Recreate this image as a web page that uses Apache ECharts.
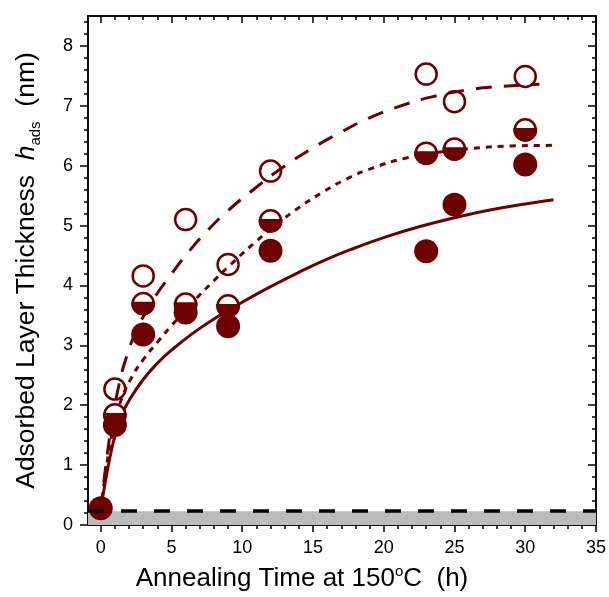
<!DOCTYPE html>
<html><head><meta charset="utf-8">
<script src="https://cdn.jsdelivr.net/npm/echarts@6/dist/echarts.min.js"></script>
<style>html,body{margin:0;padding:0;background:#fff}#c{width:609px;height:597px}</style>
</head><body><div id="c"></div>
<script>
// ---- tick labels ----
const xTicks = [0, 5, 10, 15, 20, 25, 30, 35];
const yTicks = [0, 1, 2, 3, 4, 5, 6, 7, 8];
// ---- measured data ----
const timeMeas = [1, 3, 6, 9, 12, 23, 25, 30];
const openH  = [2.27, 4.16, 5.10, 4.35, 5.91, 7.53, 7.07, 7.49];
const halfH  = [1.84, 3.70, 3.69, 3.66, 5.08, 6.21, 6.28, 6.60];
const filledT = [0, 1, 3, 6, 9, 12, 23, 25, 30];
const filledH = [0.28, 1.67, 3.18, 3.55, 3.32, 4.58, 4.57, 5.35, 6.02];
// ---- fit curves ----
const openFitT = [0, 0.25, 0.5, 0.75, 1.0, 1.3, 1.73, 2.5, 3.3, 4.0, 4.8, 6, 7.4, 9, 11, 12.8, 14.8, 16.9, 19, 21.1, 23.4, 25.8, 28, 31];
const openFitH = [0.25, 0.78, 1.25, 1.65, 2.0, 2.35, 2.74, 3.24, 3.6, 3.87, 4.13, 4.5, 4.88, 5.25, 5.64, 5.96, 6.27, 6.55, 6.8, 6.99, 7.15, 7.26, 7.32, 7.36];
const halfFitT = [0, 0.25, 0.5, 0.75, 1.0, 1.5, 2.2, 3, 4, 5, 6.5, 8, 9.5, 11, 12.5, 14, 15.7, 17.3, 19.2, 21.6, 24, 26.3, 29, 32];
const halfFitH = [0.25, 0.72, 1.12, 1.46, 1.74, 2.12, 2.47, 2.76, 3.05, 3.33, 3.72, 4.08, 4.42, 4.74, 5.03, 5.3, 5.56, 5.77, 5.96, 6.13, 6.23, 6.29, 6.33, 6.34];
const fillFitT = [0, 0.25, 0.5, 0.75, 1.0, 1.5, 2.0, 3.0, 4.0, 5, 6.5, 8, 10, 12, 14, 16, 18, 20, 22.5, 25, 27.5, 30, 32];
const fillFitH = [0.25, 0.62, 0.95, 1.24, 1.48, 1.84, 2.08, 2.43, 2.7, 2.92, 3.2, 3.44, 3.72, 3.98, 4.22, 4.44, 4.63, 4.8, 4.98, 5.13, 5.26, 5.36, 5.43];
const substrateH = 0.23;

const RED = '#6e0000';
const FONT = 'Liberation Sans, Arial, sans-serif';
const zip = (a, b) => a.map((v, i) => [v, b[i]]);

const xMinor = [];
for (let i = 0; i <= 35; i++) if (i % 5) xMinor.push(i);
const yMinor = [];
for (let i = 0; i <= 42; i++) if (i % 5) yMinor.push(+(i * 0.2).toFixed(1));

// lower segment of a circle (cut slightly above centre), used for half-filled markers
function segPath() {
  const a0 = Math.asin(-0.15), a1 = Math.PI - a0;
  const pts = [];
  const n = 48;
  for (let k = 0; k <= n; k++) {
    const a = a0 + (a1 - a0) * k / n;
    pts.push((100 + 100 * Math.cos(a)).toFixed(2) + ' ' + (100 + 100 * Math.sin(a)).toFixed(2));
  }
  return 'path://M' + pts.join(' L') + ' Z';
}
const SEG = segPath();
const MS = 24;

const XMIN = -0.9, XMAX = 35, YMIN = 0, YMAX = 8.5;
const axLine = { show: true, onZero: false, lineStyle: { color: '#000', width: 1.5 } };
function xAx(pos, ticks, len, inside, extra) {
  return Object.assign({
    type: 'value', min: XMIN, max: XMAX, position: pos,
    axisLine: axLine,
    axisTick: { show: true, inside: inside, length: len, customValues: ticks, lineStyle: { color: '#000', width: 1.5 } },
    axisLabel: { show: false },
    splitLine: { show: false }
  }, extra || {});
}
function yAx(pos, ticks, len, inside, extra) {
  return Object.assign({
    type: 'value', min: YMIN, max: YMAX, position: pos,
    axisLine: axLine,
    axisTick: { show: true, inside: inside, length: len, customValues: ticks, lineStyle: { color: '#000', width: 1.5 } },
    axisLabel: { show: false },
    splitLine: { show: false }
  }, extra || {});
}

const fitLine = (t, h, type) => ({
  type: 'line', data: zip(t, h), showSymbol: false, smooth: 0.5, z: 2,
  lineStyle: { color: RED, width: 3, type: type }
});

const option = {
  animation: false,
  backgroundColor: '#fff',
  grid: { left: 88, right: 11, top: 16, bottom: 70 },
  xAxis: [
    xAx('bottom', xTicks, 7, false, {
      axisLabel: { show: true, customValues: xTicks, fontSize: 18, color: '#000', margin: 14, fontFamily: FONT },
      name: '{t|Annealing Time at 150}{sup|o}{t|C  (h)}',
      nameLocation: 'middle', nameGap: 39,
      nameTextStyle: { padding: [0, 80, 0, 0], rich: {
        t: { fontSize: 26, fontFamily: FONT, color: '#000', lineHeight: 30 },
        sup: { fontSize: 15, fontFamily: FONT, color: '#000', lineHeight: 13, verticalAlign: 'top' }
      } }
    }),
    xAx('bottom', xMinor, 4, false),
    xAx('top', xTicks, 7, true),
    xAx('top', xMinor, 4, true)
  ],
  yAxis: [
    yAx('left', yTicks, 8, false, {
      axisLabel: { show: true, customValues: yTicks, fontSize: 18, color: '#000', margin: 15, fontFamily: FONT },
      name: '{t|Adsorbed Layer Thickness  }{h|h}{s|ads}{t|  (nm)}',
      nameLocation: 'middle', nameGap: 45,
      nameTextStyle: { rich: {
        t: { fontSize: 26.5, fontFamily: FONT, color: '#000', lineHeight: 32 },
        h: { fontSize: 26.5, fontFamily: FONT, fontStyle: 'italic', color: '#000', lineHeight: 32 },
        s: { fontSize: 15, fontFamily: FONT, color: '#000', lineHeight: 15, verticalAlign: 'bottom' }
      } }
    }),
    yAx('left', yMinor, 4, false),
    yAx('right', yTicks, 8, true),
    yAx('right', yMinor, 4, true)
  ],
  series: [
    { type: 'line', data: [], silent: true, z: 1,
      markArea: { silent: true, itemStyle: { color: '#bbbbbb' }, data: [[{ yAxis: 0 }, { yAxis: substrateH }]] } },
    fitLine(openFitT, openFitH, [16, 12]),
    fitLine(halfFitT, halfFitH, [6, 6]),
    fitLine(fillFitT, fillFitH, 'solid'),
    { type: 'scatter', data: zip(filledT, filledH), symbol: 'circle', symbolSize: MS, z: 3,
      itemStyle: { color: RED, opacity: 1 } },
    { type: 'scatter', data: zip(timeMeas, halfH), symbol: 'circle', symbolSize: MS - 3, z: 4,
      itemStyle: { color: '#fff', borderColor: RED, borderWidth: 2.5, opacity: 1 } },
    { type: 'scatter', data: zip(timeMeas, halfH), symbol: SEG, symbolSize: [MS, MS * 115 / 200], symbolOffset: [0, MS * 42.5 / 200], z: 5,
      itemStyle: { color: RED, opacity: 1 } },
    { type: 'scatter', data: zip(timeMeas, openH), symbol: 'circle', symbolSize: MS - 3, z: 6,
      itemStyle: { color: 'rgba(0,0,0,0)', borderColor: RED, borderWidth: 2.5, opacity: 1 } },
    { type: 'line', data: [], silent: true, z: 10,
      markLine: { silent: true, symbol: 'none', label: { show: false },
        lineStyle: { color: '#000', width: 3.5, type: [16, 17] }, data: [{ yAxis: substrateH }] } }
  ]
};
const chart = echarts.init(document.getElementById('c'));
chart.setOption(option);
</script>
</body></html>
